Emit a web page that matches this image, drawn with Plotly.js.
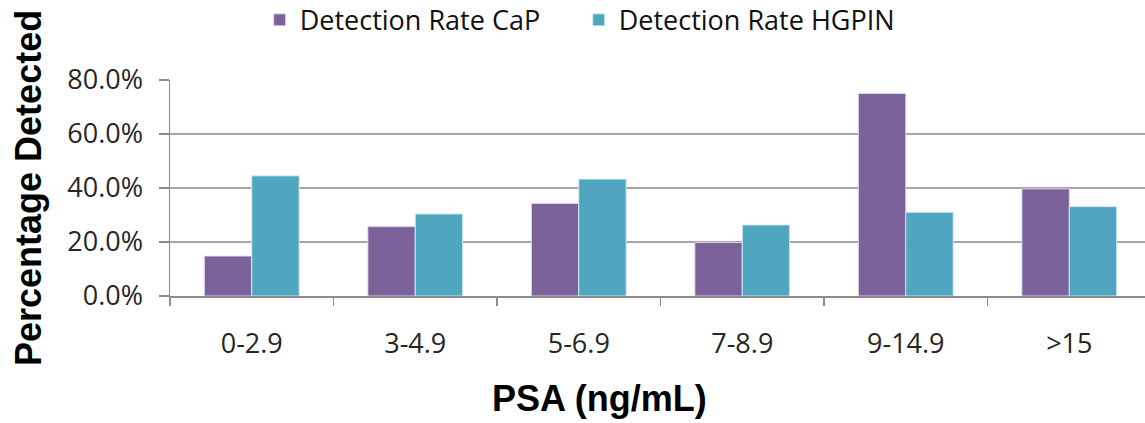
<!DOCTYPE html>
<html>
<head>
<meta charset="utf-8">
<script src="https://cdn.plot.ly/plotly-3.0.1.min.js"></script>
<style>html,body{margin:0;padding:0;background:#fff;}#chart{width:1145px;height:423px;}</style>
</head>
<body>
<div id="chart"></div>
<script>
const categories = ["0-2.9", "3-4.9", "5-6.9", "7-8.9", "9-14.9", ">15"];
const capRate = [0.148, 0.257, 0.343, 0.198, 0.750, 0.397];
const hgpinRate = [0.445, 0.304, 0.433, 0.263, 0.310, 0.331];
const seriesNames = ["Detection Rate CaP", "Detection Rate HGPIN"];
const yTicks = [0, 0.2, 0.4, 0.6, 0.8];

const tickFont = {family: "Open Sans, Noto Sans, sans-serif", size: 27, color: "#262626"};

const traces = [
  {type: "bar", name: seriesNames[0], x: categories, y: capRate,
   marker: {color: "#7B629B", line: {color: "rgba(230,220,240,0.9)", width: 1}}},
  {type: "bar", name: seriesNames[1], x: categories, y: hgpinRate,
   marker: {color: "#4FA6BE", line: {color: "rgba(215,238,245,0.9)", width: 1}}}
];

const layout = {
  width: 1145, height: 423,
  margin: {l: 170, r: 0, t: 80, b: 127, pad: 0},
  paper_bgcolor: "#fff", plot_bgcolor: "#fff",
  barmode: "group", bargap: 0.42, bargroupgap: 0,
  font: tickFont,
  showlegend: true,
  legend: {orientation: "h", x: 0.092, xanchor: "left", y: 0.952, yanchor: "middle",
           yref: "container", bgcolor: "rgba(0,0,0,0)",
           font: {family: "Open Sans, Noto Sans, sans-serif", size: 27, color: "#111"},
           entrywidth: 274, entrywidthmode: "pixels", traceorder: "normal"},
  xaxis: {type: "category", range: [-0.5, 5.463], tickson: "boundaries",
          ticks: "outside", ticklen: 8, tickcolor: "#8c8c8c", tickwidth: 1.5,
          showline: true, linecolor: "#8c8c8c", linewidth: 1.5,
          showgrid: false, zeroline: false, ticklabelstandoff: 23, tickfont: tickFont},
  yaxis: {range: [0, 0.8], tickvals: yTicks, tickformat: ".1%",
          ticks: "outside", ticklen: 10, tickcolor: "#8c8c8c", tickwidth: 1.5,
          showline: true, linecolor: "#8c8c8c", linewidth: 1.5,
          showgrid: true, gridcolor: "#a6a6a6", gridwidth: 1.5, zeroline: false,
          ticklabelstandoff: 10, tickfont: tickFont},
  annotations: [
    {text: "Percentage Detected", xref: "paper", yref: "paper", x: 0, y: 0.5,
     xshift: -142, textangle: -90, showarrow: false, xanchor: "center", yanchor: "middle",
     font: {family: "Liberation Sans, Arial, sans-serif", size: 36, color: "#000", weight: "bold"}},
    {text: "PSA (ng/mL)", xref: "paper", yref: "paper", x: 0.44, y: 0, yshift: -102,
     showarrow: false, xanchor: "center", yanchor: "middle",
     font: {family: "Liberation Sans, Arial, sans-serif", size: 36, color: "#000", weight: "bold"}}
  ]
};

Plotly.newPlot("chart", traces, layout, {staticPlot: true, displayModeBar: false});
</script>
</body>
</html>
